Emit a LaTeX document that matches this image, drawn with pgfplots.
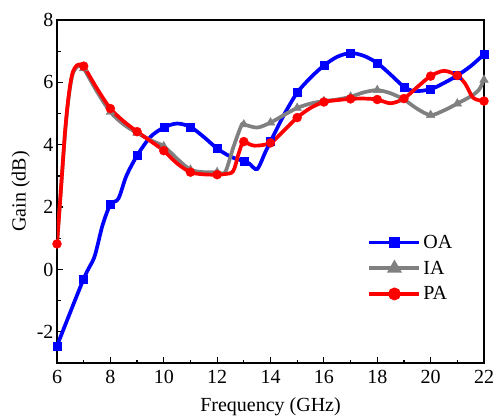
\documentclass[border=0pt]{standalone}
\usepackage{fontspec}
\setmainfont{Liberation Serif}
\usepackage{pgfplots}
\pgfplotsset{compat=1.18}
\definecolor{oacol}{RGB}{0,0,255}
\definecolor{iacol}{RGB}{128,128,128}
\definecolor{pacol}{RGB}{255,0,0}
\begin{document}
\begin{tikzpicture}
\path[use as bounding box] (-57pt,-55pt) rectangle (436pt,363pt);
\begin{axis}[
  scale only axis, width=427pt, height=343pt,
  xmin=6, xmax=22, ymin=-3, ymax=8,
  xtick={6,8,...,22}, ytick={-2,0,...,8},
  minor x tick num=1, minor y tick num=1,
  tick align=inside, tick pos=left,
  major tick length=6pt, minor tick length=3.5pt,
  axis line style={line width=1.2pt},
  every tick/.style={line width=1.2pt, black},
  font=\fontsize{20}{24}\selectfont,
  tick label style={font=\fontsize{20}{24}\selectfont},
  xticklabel style={yshift=-4pt},
  /pgf/number format/assume math mode=true,
  xlabel={Frequency (GHz)}, ylabel={Gain (dB)},
  xlabel style={yshift=-7pt},
  legend style={draw=none, fill=none, at={(0.72,0.385)}, anchor=north west,
    font=\fontsize{20}{24}\selectfont, row sep=7pt},
  legend cell align=left,
  legend image code/.code={\draw[mark repeat=2,mark phase=2] plot coordinates {(0pt,0pt) (25pt,0pt) (50pt,0pt)};},
]
% OA
\addplot[oacol, line width=3.7pt, smooth, tension=0.5, forget plot] coordinates {
(6,-2.45) (7,-0.30) (7.4,0.40) (7.7,1.40) (8,2.08) (8.3,2.27) (8.6,3.00) (9,3.65)
(9.5,4.25) (10,4.55) (10.5,4.68) (11,4.57) (11.5,4.25) (12,3.88) (12.5,3.62) (13,3.47)
(13.2,3.40) (13.5,3.22) (13.8,3.75) (14,4.10) (14.5,4.95) (15,5.67) (15.5,6.15) (16,6.54)
(16.5,6.82) (17,6.94) (17.5,6.85) (18,6.62) (18.5,6.25) (19,5.86) (19.4,5.72) (20,5.78)
(20.5,5.98) (21,6.22) (21.5,6.52) (22,6.90)};
\addplot[oacol, only marks, mark=square*, mark size=4pt, forget plot] coordinates {
(6,-2.45) (7,-0.30) (8,2.08) (9,3.65) (10,4.55) (11,4.57) (12,3.88) (13,3.47) (14,4.10)
(15,5.67) (16,6.54) (17,6.94) (18,6.62) (19,5.86) (20,5.78) (21,6.22) (22,6.90)};
% IA
\addplot[iacol, line width=3.7pt, smooth, tension=0.5, forget plot] coordinates {
(6,0.8) (6.1,2.0) (6.2,3.2) (6.3,4.35) (6.4,5.25) (6.5,5.9) (6.6,6.3) (6.75,6.5) (6.9,6.52)
(7,6.45) (7.5,5.7) (8,5.05) (8.5,4.65) (9,4.38) (9.5,4.15) (10,3.95) (10.5,3.55) (11,3.2)
(11.5,3.12) (12,3.12) (12.3,3.12) (12.6,3.9) (12.9,4.6) (13,4.65) (13.5,4.55) (14,4.71)
(14.5,4.95) (15,5.18) (15.5,5.32) (16,5.40) (16.5,5.45) (17,5.54) (17.5,5.68) (18,5.75)
(18.5,5.65) (19,5.45) (19.5,5.15) (20,4.95) (20.5,5.1) (21,5.32) (21.5,5.55) (21.8,5.75) (22,6.08)};
\addplot[iacol, only marks, mark=triangle*, mark size=5pt, forget plot] coordinates {
(7,6.45) (8,5.05) (9,4.38) (10,3.95) (11,3.2) (12,3.12) (13,4.65) (14,4.71)
(15,5.18) (16,5.40) (17,5.54) (18,5.75) (19,5.45) (20,4.95) (21,5.32) (22,6.08)};
% PA
\addplot[pacol, line width=3.7pt, smooth, tension=0.5, forget plot] coordinates {
(6,0.82) (6.1,2.0) (6.2,3.2) (6.3,4.4) (6.4,5.3) (6.5,5.95) (6.6,6.35) (6.75,6.55) (6.9,6.57)
(7,6.52) (7.5,5.8) (8,5.16) (8.5,4.75) (9,4.42) (9.5,4.12) (10,3.81) (10.5,3.4) (11,3.12)
(11.5,3.05) (12,3.04) (12.3,3.06) (12.6,3.15) (12.8,3.7) (12.95,4.08) (13,4.10) (13.4,3.97)
(14,4.06) (14.5,4.45) (15,4.87) (15.5,5.18) (16,5.37) (16.5,5.43) (17,5.47) (17.5,5.48)
(18,5.45) (18.5,5.33) (19,5.48) (19.5,5.85) (20,6.20) (20.5,6.37) (21,6.22) (21.3,5.95)
(21.6,5.5) (22,5.40)};
\addplot[pacol, only marks, mark=*, mark size=4.5pt, forget plot] coordinates {
(6,0.82) (7,6.52) (8,5.16) (9,4.42) (10,3.81) (11,3.12) (12,3.04) (13,4.10) (14,4.06)
(15,4.87) (16,5.37) (17,5.47) (18,5.45) (19,5.48) (20,6.20) (21,6.22) (22,5.40)};
\addlegendimage{oacol, line width=3.7pt, mark=square*, mark size=4pt}
\addlegendentry{OA}
\addlegendimage{iacol, line width=3.7pt, mark=triangle*, mark size=5pt}
\addlegendentry{IA}
\addlegendimage{pacol, line width=3.7pt, mark=*, mark size=4.5pt}
\addlegendentry{PA}
\end{axis}
\end{tikzpicture}
\end{document}
